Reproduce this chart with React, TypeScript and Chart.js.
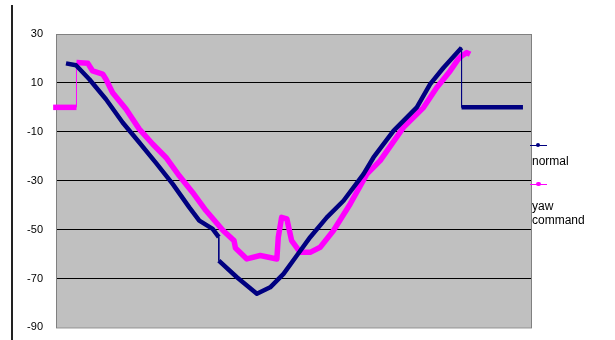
import React, { useEffect, useRef } from "react";
import { Chart, registerables } from "chart.js";

Chart.register(...registerables);

// Sample index (0..100 across the plot) and values
const normalX = [2.1, 4.2, 7.0, 10.5, 14.0, 17.5, 21.0, 24.5, 28.0, 30.1, 32.9, 34.2, 34.2, 38.0, 42.2, 45.0, 47.8, 50.6, 53.4, 56.9, 60.4, 64.6, 66.7, 70.9, 75.8, 78.6, 81.4, 85.2, 85.2, 98.1];
const normalY = [18.0, 17.2, 11.5, 3.3, -6.2, -14.4, -22.7, -31.3, -40.9, -46.3, -49.7, -53.1, -62.7, -69.5, -76.2, -73.6, -68.1, -60.6, -53.1, -45.0, -38.2, -27.3, -20.5, -9.6, 0.0, 9.5, 16.2, 24.4, 0, 0];

const yawX = [-0.6, 4.3, 4.3, 6.7, 7.7, 9.8, 10.5, 11.9, 14.7, 17.5, 20.3, 23.1, 25.9, 28.7, 31.5, 35.1, 37.4, 37.7, 40.1, 42.9, 46.4, 46.7, 47.4, 48.5, 49.5, 51.3, 53.4, 55.5, 58.3, 61.8, 65.3, 68.1, 73.0, 77.2, 80.0, 82.8, 84.5, 85.2, 86.3, 87.0];
const yawY = [0, 0, 18.3, 18.0, 14.9, 13.6, 11.5, 6.0, -0.7, -8.9, -15.0, -20.5, -28.0, -34.8, -42.2, -50.4, -54.5, -57.5, -62.0, -60.6, -62.0, -53.1, -45.0, -45.6, -54.5, -59.3, -59.3, -57.2, -50.4, -39.5, -27.3, -21.8, -8.2, -0.1, 8.1, 14.9, 19.7, 21.0, 22.4, 21.7];

const yMin = -90;
const yMax = 30;
const yStep = 20;

const seriesNames = ["normal", "yaw command"];
const seriesColors = ["#000080", "#FF00FF"];

const plotBg = {
  id: "plotBg",
  beforeDraw(chart: any) {
    const { ctx, chartArea: a } = chart;
    ctx.save();
    ctx.fillStyle = "#C0C0C0";
    ctx.fillRect(a.left, a.top, a.right - a.left, a.bottom - a.top);
    ctx.restore();
  },
  beforeDatasetsDraw(chart: any) {
    const { ctx, chartArea: a } = chart;
    ctx.save();
    ctx.strokeStyle = "#808080";
    ctx.lineWidth = 1;
    ctx.strokeRect(a.left + 0.5, a.top + 0.5, a.right - a.left - 1, a.bottom - a.top);
    ctx.restore();
  },
};

export default function App() {
  const ref = useRef<HTMLCanvasElement | null>(null);

  useEffect(() => {
    if (!ref.current) return;
    const thin = (w: number) => (c: any) => (c.p0.parsed.x === c.p1.parsed.x ? 1 : w);
    const chart = new Chart(ref.current, {
      type: "line",
      data: {
        datasets: [
          {
            label: seriesNames[0],
            data: normalX.map((x, i) => ({ x, y: normalY[i] })),
            borderColor: seriesColors[0],
            borderWidth: 4.5,
            pointRadius: 0,
            borderJoinStyle: "round",
            borderCapStyle: "butt",
            segment: { borderWidth: thin(4.5) },
            clip: false,
          } as any,
          {
            label: seriesNames[1],
            data: yawX.map((x, i) => ({ x, y: yawY[i] })),
            borderColor: seriesColors[1],
            borderWidth: 5.5,
            pointRadius: 0,
            borderJoinStyle: "round",
            borderCapStyle: "butt",
            segment: { borderWidth: thin(5.5) },
            clip: false,
          } as any,
        ],
      },
      options: {
        animation: false,
        responsive: false,
        maintainAspectRatio: false,
        layout: { padding: { left: 0, top: 34, right: 83, bottom: 6 } },
        plugins: { legend: { display: false }, tooltip: { enabled: false } },
        scales: {
          x: { type: "linear", min: 0, max: 100, display: false },
          y: {
            min: yMin,
            max: yMax,
            ticks: {
              stepSize: yStep,
              color: "#000",
              padding: 13,
              font: { family: "'Liberation Sans', Arial, sans-serif", size: 11 },
            },
            grid: {
              drawTicks: false,
              color: (c: any) => (c.tick && (c.tick.value === yMax || c.tick.value === yMin) ? "rgba(0,0,0,0)" : "#000"),
              lineWidth: 1,
            },
            border: { display: false },
            afterFit: (s: any) => {
              s.width = 56;
            },
          } as any,
        },
      },
      plugins: [plotBg],
    });
    return () => chart.destroy();
  }, []);

  const txt: React.CSSProperties = {
    position: "absolute",
    fontFamily: "'Liberation Sans', Arial, sans-serif",
    fontSize: 12,
    color: "#000",
    lineHeight: "14px",
  };

  return (
    <div style={{ position: "absolute", left: 0, top: 0, width: 615, height: 340, background: "#fff", overflow: "hidden" }}>
      <div style={{ position: "absolute", left: 11, top: 5, width: 2, height: 335, background: "#222" }} />
      <canvas ref={ref} width={615} height={347} style={{ position: "absolute", left: 0, top: 0 }} />
      <div style={{ position: "absolute", left: 530, top: 145, width: 17, height: 1, background: seriesColors[0] }} />
      <div style={{ position: "absolute", left: 536, top: 143, width: 4, height: 4, borderRadius: 2, background: seriesColors[0] }} />
      <div style={{ ...txt, left: 532, top: 154 }}>{seriesNames[0]}</div>
      <div style={{ position: "absolute", left: 530, top: 184, width: 17, height: 1, background: seriesColors[1] }} />
      <div style={{ position: "absolute", left: 536, top: 182, width: 5, height: 4, borderRadius: 2, background: seriesColors[1] }} />
      <div style={{ ...txt, left: 532, top: 199 }}>yaw<br />command</div>
    </div>
  );
}
